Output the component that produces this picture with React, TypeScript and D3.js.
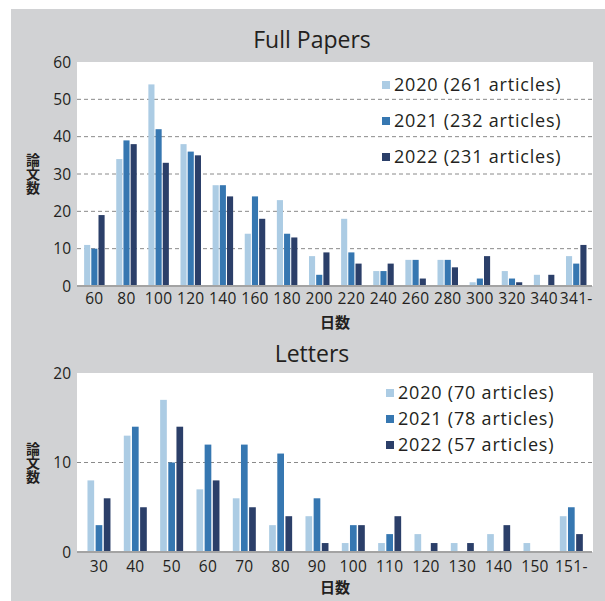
import React from "react";
import * as d3 from "d3";

const seriesNames = ["2020", "2021", "2022"];
const colors = ["#acccE4", "#3677b1", "#2b3f69"];

const fullCategories = ["60", "80", "100", "120", "140", "160", "180", "200", "220", "240", "260", "280", "300", "320", "340", "341-"];
const full2020 = [11, 34, 54, 38, 27, 14, 23, 8, 18, 4, 7, 7, 1, 4, 3, 8];
const full2021 = [10, 39, 42, 36, 27, 24, 14, 3, 9, 4, 7, 7, 2, 2, 0, 6];
const full2022 = [19, 38, 33, 35, 24, 18, 13, 9, 6, 6, 2, 5, 8, 1, 3, 11];
const fullLegend = ["2020 (261 articles)", "2021 (232 articles)", "2022 (231 articles)"];
const fullTicks = [0, 10, 20, 30, 40, 50, 60];

const letterCategories = ["30", "40", "50", "60", "70", "80", "90", "100", "110", "120", "130", "140", "150", "151-"];
const letter2020 = [8, 13, 17, 7, 6, 3, 4, 1, 1, 2, 1, 2, 1, 4];
const letter2021 = [3, 14, 10, 12, 12, 11, 6, 3, 2, 0, 0, 0, 0, 5];
const letter2022 = [6, 5, 14, 8, 5, 4, 1, 3, 4, 1, 1, 3, 0, 2];
const letterLegend = ["2020 (70 articles)", "2021 (78 articles)", "2022 (57 articles)"];
const letterTicks = [0, 10, 20];

const FONT = "'Open Sans', 'Noto Sans CJK JP', sans-serif";
const JP = "'Noto Sans CJK JP', sans-serif";
const TXT = "#231f20";

type PanelProps = {
  title: string;
  titleY: number;
  categories: string[];
  series: number[][];
  legend: string[];
  ticks: number[];
  plot: { x0: number; x1: number; y0: number; y1: number };
  bandRange: [number, number];
  groupWidth: number;
  barPad: number;
  legendX: number;
  legendYs: number[];
  xLabelY: number;
  xTitleY: number;
};

function Panel(p: PanelProps) {
  const { plot } = p;
  const yMax = p.ticks[p.ticks.length - 1];
  const y = d3.scaleLinear().domain([0, yMax]).range([plot.y1, plot.y0]);
  const x = d3.scaleBand().domain(p.categories).range(p.bandRange).padding(0);
  const x1 = d3.scaleBand().domain(seriesNames).range([-p.groupWidth / 2, p.groupWidth / 2]).paddingInner(p.barPad);
  const yc = (plot.y0 + plot.y1) / 2;
  return (
    <g>
      <text x={312} y={p.titleY} textAnchor="middle" fontSize={23} fontFamily={FONT} fill={TXT}>{p.title}</text>
      <rect x={plot.x0} y={plot.y0} width={plot.x1 - plot.x0} height={plot.y1 - plot.y0} fill="#ffffff" />
      {p.ticks.filter((t) => t > 0 && t < yMax).map((t) => (
        <line key={t} x1={plot.x0} x2={plot.x1} y1={y(t)} y2={y(t)} stroke="#8a8a8a" strokeWidth={1} strokeDasharray="4,3" />
      ))}
      {p.categories.map((c, i) => (
        <g key={c} transform={`translate(${(x(c) as number) + x.bandwidth() / 2},0)`}>
          {seriesNames.map((s, k) => (
            <rect key={s} x={x1(s) as number} width={x1.bandwidth()} y={y(p.series[k][i])} height={y(0) - y(p.series[k][i])} fill={colors[k]} />
          ))}
          <text x={0} y={p.xLabelY} textAnchor="middle" fontSize={15.5} letterSpacing={0.3} fontFamily={FONT} fill={TXT}>{c}</text>
        </g>
      ))}
      <line x1={plot.x0} x2={plot.x1 - 1} y1={plot.y1} y2={plot.y1} stroke="#a3a3a3" strokeWidth={2} />
      {p.ticks.map((t) => (
        <text key={t} x={71} y={y(t)} dy="0.36em" textAnchor="end" fontSize={15.5} fontFamily={FONT} fill={TXT}>{t}</text>
      ))}
      <text x={33} y={yc} textAnchor="middle" fontSize={14} fontWeight="bold" fontFamily={JP} fill={TXT} style={{ writingMode: "vertical-rl" }}>論文数</text>
      <text x={(plot.x0 + plot.x1) / 2} y={p.xTitleY} dy="0.38em" textAnchor="middle" fontSize={15} fontWeight="bold" fontFamily={JP} fill={TXT}>日数</text>
      {p.legend.map((l, k) => (
        <g key={l}>
          <rect x={p.legendX} y={p.legendYs[k] - 4} width={8} height={8} fill={colors[k]} />
          <text x={p.legendX + 12} y={p.legendYs[k]} dy="0.36em" fontSize={18} letterSpacing={0.8} fontFamily={FONT} fill={TXT}>{l}</text>
        </g>
      ))}
    </g>
  );
}

export default function App() {
  return (
    <svg width={605} height={601} style={{ position: "absolute", left: 0, top: 0 }}>
      <rect x={11} y={9} width={594} height={592} fill="#d1d2d4" />
      <Panel
        title="Full Papers"
        titleY={48}
        categories={fullCategories}
        series={[full2020, full2021, full2022]}
        legend={fullLegend}
        ticks={fullTicks}
        plot={{ x0: 77, x1: 593, y0: 62, y1: 286 }}
        bandRange={[78.3, 592.3]}
        groupWidth={20.5}
        barPad={0.15}
        legendX={382}
        legendYs={[85, 121, 157]}
        xLabelY={304}
        xTitleY={322}
      />
      <Panel
        title="Letters"
        titleY={362}
        categories={letterCategories}
        series={[letter2020, letter2021, letter2022]}
        legend={letterLegend}
        ticks={letterTicks}
        plot={{ x0: 77, x1: 593, y0: 373, y1: 552 }}
        bandRange={[80.8, 589.5]}
        groupWidth={23}
        barPad={0.18}
        legendX={386}
        legendYs={[393, 419, 445]}
        xLabelY={572}
        xTitleY={587}
      />
    </svg>
  );
}
